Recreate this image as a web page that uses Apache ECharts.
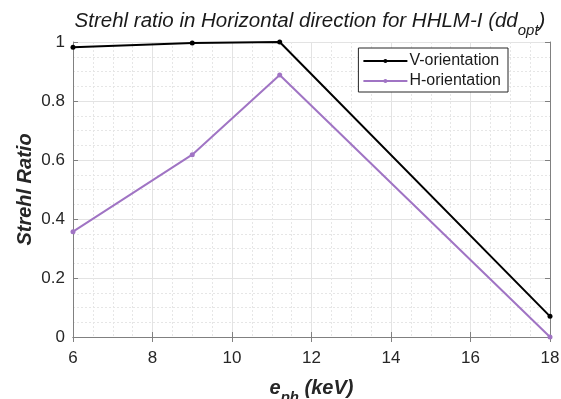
<!DOCTYPE html>
<html>
<head>
<meta charset="utf-8">
<script src="https://cdn.jsdelivr.net/npm/echarts@6/dist/echarts.min.js"></script>
<style>
  html, body { margin: 0; padding: 0; background: #fff; }
  #chart { width: 561px; height: 399px; }
</style>
</head>
<body>
<div id="chart"></div>
<script>
// Photon energies (keV) and Strehl ratios for the two crystal orientations
const energies = [6, 9, 11.2, 18];
const vOrientation = [0.982, 0.997, 1.0, 0.07];
const hOrientation = [0.357, 0.618, 0.888, 0.0];
const seriesNames = ['V-orientation', 'H-orientation'];

const FONT = '"Liberation Sans", Arial, Helvetica, sans-serif';
const AXIS_GRAY = '#808080';
const TEXT_GRAY = '#262626';

const pairs = (xs, ys) => xs.map((x, i) => [x, ys[i]]);

const chart = echarts.init(document.getElementById('chart'));

const gridRect = { left: 73, right: 11, top: 42, bottom: 62 };

const baseAxis = {
  axisLine: { show: true, lineStyle: { color: AXIS_GRAY, width: 1 } },
  axisTick: { show: true, inside: true, length: 5, lineStyle: { color: AXIS_GRAY } },
  minorTick: { show: false, splitNumber: 4 },
  splitLine: { show: true, lineStyle: { color: '#e3e3e3', width: 1 } },
  minorSplitLine: { show: true, lineStyle: { color: '#e6e6e6', type: [2, 2], width: 1 } }
};

chart.setOption({
  animation: false,
  backgroundColor: '#ffffff',
  title: {
    left: 305,
    textAlign: 'center',
    top: 6,
    text: '{a|Strehl ratio in Horizontal direction for HHLM-I (dd}{s|opt}{a|)}',
    textStyle: {
      fontWeight: 'normal',
      rich: {
        a: { fontFamily: FONT, fontStyle: 'italic', fontWeight: 'normal', fontSize: 20.5, color: '#1a1a1a', verticalAlign: 'top', lineHeight: 28 },
        s: { fontFamily: FONT, fontStyle: 'italic', fontWeight: 'normal', fontSize: 15, color: '#1a1a1a', verticalAlign: 'top', lineHeight: 28, padding: [12, 0, 0, 0] }
      }
    }
  },
  legend: {
    right: 53,
    top: 48,
    orient: 'vertical',
    itemGap: 4,
    itemWidth: 44,
    itemHeight: 5,
    padding: [5, 7, 3, 4],
    backgroundColor: '#ffffff',
    borderColor: '#262626',
    borderWidth: 1,
    borderRadius: 0,
    textStyle: { fontFamily: FONT, fontSize: 16, color: '#1a1a1a', padding: [0, 0, 0, -3] },
    data: seriesNames
  },
  grid: [Object.assign({ containLabel: false, outerBoundsMode: 'none' }, gridRect)],
  xAxis: [
    Object.assign({}, baseAxis, {
      type: 'value',
      min: 6,
      max: 18,
      interval: 2,
      position: 'bottom',
      axisLabel: { fontFamily: FONT, fontSize: 17, color: TEXT_GRAY, margin: 13 },
      name: '{e|e}{s|ph}{e| (keV)}',
      nameLocation: 'middle',
      nameGap: 41,
      nameMoveOverlap: false,
      nameTextStyle: {
        rich: {
          e: { fontFamily: FONT, fontWeight: 'bold', fontStyle: 'italic', fontSize: 20, color: TEXT_GRAY, verticalAlign: 'top', lineHeight: 26 },
          s: { fontFamily: FONT, fontWeight: 'bold', fontStyle: 'italic', fontSize: 15, color: TEXT_GRAY, verticalAlign: 'top', lineHeight: 26, padding: [12, 0, 0, 0] }
        }
      }
    }),
    Object.assign({}, baseAxis, {
      type: 'value',
      min: 6,
      max: 18,
      interval: 2,
      position: 'top',
      axisLabel: { show: false },
      splitLine: { show: false },
      minorSplitLine: { show: false }
    })
  ],
  yAxis: [
    Object.assign({}, baseAxis, {
      type: 'value',
      min: 0,
      max: 1,
      interval: 0.2,
      position: 'left',
      axisLabel: {
        fontFamily: FONT, fontSize: 17, color: TEXT_GRAY, margin: 8,
        formatter: v => (v === 0 || v === 1) ? String(v) : v.toFixed(1)
      },
      name: 'Strehl Ratio',
      nameLocation: 'middle',
      nameGap: 38,
      nameMoveOverlap: false,
      nameTextStyle: { fontFamily: FONT, fontWeight: 'bold', fontStyle: 'italic', fontSize: 20, color: TEXT_GRAY }
    }),
    Object.assign({}, baseAxis, {
      type: 'value',
      min: 0,
      max: 1,
      interval: 0.2,
      position: 'right',
      axisLabel: { show: false },
      splitLine: { show: false },
      minorSplitLine: { show: false }
    })
  ],
  series: [
    {
      name: seriesNames[0],
      type: 'line',
      data: pairs(energies, vOrientation),
      symbol: 'circle',
      symbolSize: 5,
      lineStyle: { color: '#000000', width: 2 },
      itemStyle: { color: '#000000' },
      z: 3
    },
    {
      name: seriesNames[1],
      type: 'line',
      data: pairs(energies, hOrientation),
      symbol: 'circle',
      symbolSize: 5,
      lineStyle: { color: '#a074c4', width: 2 },
      itemStyle: { color: '#a074c4' },
      z: 2
    }
  ]
});
</script>
</body>
</html>
